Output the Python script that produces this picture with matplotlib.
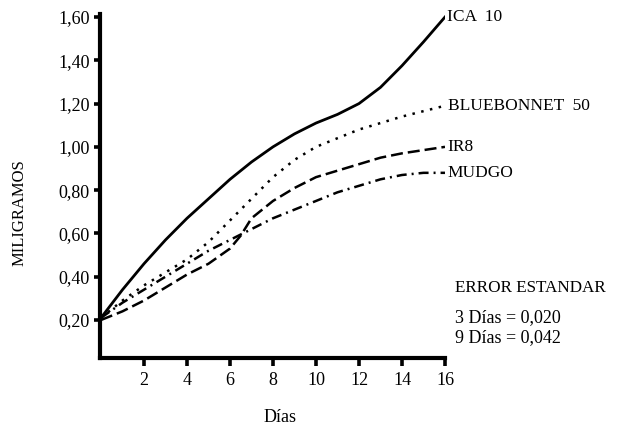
import matplotlib
matplotlib.use("Agg")
import matplotlib.pyplot as plt

# days on the x axis
dias = [0, 1, 2, 3, 4, 5, 6, 7, 8, 9, 10, 11, 12, 13, 14, 15, 16]
dias_ir8 = [0, 1, 2, 3, 4, 5, 6, 6.5, 7, 8, 9, 10, 11, 12, 13, 14, 15, 16]

# miligramos per variety
ica10 = [0.21, 0.34, 0.46, 0.57, 0.67, 0.76, 0.85, 0.93, 1.00, 1.06, 1.11, 1.15, 1.20, 1.275, 1.375, 1.485, 1.60]
bluebonnet50 = [0.21, 0.29, 0.36, 0.42, 0.48, 0.56, 0.66, 0.76, 0.86, 0.94, 1.00, 1.04, 1.08, 1.11, 1.14, 1.165, 1.19]
ir8 = [0.20, 0.24, 0.29, 0.35, 0.41, 0.46, 0.53, 0.59, 0.67, 0.75, 0.81, 0.86, 0.89, 0.92, 0.95, 0.97, 0.985, 1.00]
mudgo = [0.21, 0.28, 0.34, 0.40, 0.46, 0.52, 0.57, 0.62, 0.67, 0.71, 0.75, 0.79, 0.82, 0.85, 0.87, 0.88, 0.88]

yticks = [0.20, 0.40, 0.60, 0.80, 1.00, 1.20, 1.40, 1.60]
ytick_labels = ["0,20", "0,40", "0,60", "0,80", "1,00", "1,20", "1,40", "1,60"]
xticks = [2, 4, 6, 8, 10, 12, 14, 16]

plt.rcParams["font.family"] = ["Liberation Serif", "DejaVu Serif"]

fig = plt.figure(figsize=(6.22, 4.28), dpi=100)
ax = fig.add_axes([0.16, 0.1624, 0.5554, 0.8049])

ax.plot(dias, ica10, color="black", lw=2.0, linestyle="-")
ax.plot(dias, bluebonnet50, color="black", lw=1.8, linestyle=(0, (1, 2.6)))
ax.plot(dias_ir8, ir8, color="black", lw=1.8, linestyle=(0, (4.8, 2)))
ax.plot(dias, mudgo, color="black", lw=1.8, linestyle=(0, (4, 2, 0.8, 2)))

# labels at line ends
lab = dict(fontsize=12.5, va="center", clip_on=False)
ax.text(16.1, ica10[-1], "ICA  10", **lab)
ax.text(16.15, bluebonnet50[-1], "BLUEBONNET  50", **lab)
ax.text(16.1, ir8[-1], "IR8", **lab)
ax.text(16.1, mudgo[-1], "MUDGO", **lab)

ax.set_xlim(-0.07, 16)
ax.set_ylim(0.022, 1.614)
ax.set_yticks(yticks)
ax.set_yticklabels(ytick_labels)
ax.set_xticks(xticks)
ax.set_xticklabels([str(t) for t in xticks])

ax.spines["top"].set_visible(False)
ax.spines["right"].set_visible(False)
ax.spines["left"].set_linewidth(3)
ax.spines["bottom"].set_linewidth(3)
ax.tick_params(axis="y", direction="out", length=4, width=2.6, labelsize=13, pad=3)
ax.tick_params(axis="x", direction="out", length=6, width=2.6, labelsize=13, pad=4)

fig.text(20 / 622, 1 - 213 / 428, "MILIGRAMOS", rotation=90, fontsize=12, ha="center", va="center")
fig.text(280 / 622, 1 - 418 / 428, "Días", fontsize=13, ha="center", va="center")

fig.text(455 / 622, 1 - 288 / 428, "ERROR ESTANDAR", fontsize=12.3, va="center")
fig.text(455 / 622, 1 - 318 / 428, "3 Días = 0,020", fontsize=13, va="center")
fig.text(455 / 622, 1 - 338 / 428, "9 Días = 0,042", fontsize=13, va="center")

fig.savefig("out.png", dpi=100)
